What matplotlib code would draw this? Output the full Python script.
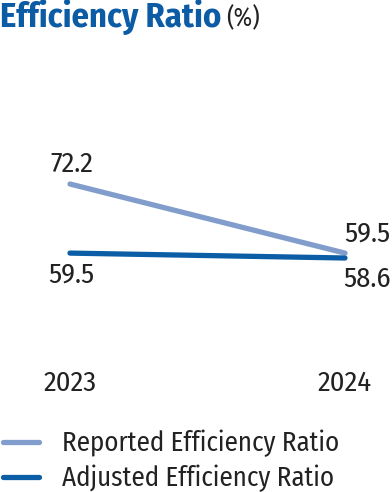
import matplotlib
matplotlib.use("Agg")
import matplotlib.pyplot as plt

years = ["2023", "2024"]
reported = [72.2, 59.5]
adjusted = [59.5, 58.6]
series_names = ["Reported Efficiency Ratio", "Adjusted Efficiency Ratio"]
light = "#819dcb"
dark = "#0b5ea6"
title_col = "#0b5ba5"
txt = "#222222"

plt.rcParams["font.family"] = ["Fira Sans Condensed", "Asap Condensed", "DejaVu Sans"]

W, H = 392, 492
fig = plt.figure(figsize=(W/100, H/100), dpi=100)
# axes spanning pixel x 70..345, y 140..300 (from top)
ax = fig.add_axes([70/W, 1-300/H, 275/W, 160/H])
ax.set_xlim(0, 1)
ax.set_ylim(50.88, 80.29)
ax.axis("off")
x = [0, 1]
l1, = ax.plot(x, reported, color=light, lw=3.8, solid_capstyle="round", clip_on=False)
l2, = ax.plot(x, adjusted, color=dark, lw=3.8, solid_capstyle="round", clip_on=False)

fs = 20.5
ax.annotate(f"{reported[0]}", (x[0], reported[0]), xytext=(1, 14.4), textcoords="offset points",
            ha="center", va="center", fontsize=fs, color=txt)
ax.annotate(f"{adjusted[0]}", (x[0], adjusted[0]), xytext=(1, -15.8), textcoords="offset points",
            ha="center", va="center", fontsize=fs, color=txt)
ax.annotate(f"{reported[1]}", (x[1], reported[1]), xytext=(15.8, 13.7), textcoords="offset points",
            ha="center", va="center", fontsize=fs, color=txt)
ax.annotate(f"{adjusted[1]}", (x[1], adjusted[1]), xytext=(15.8, -15.5), textcoords="offset points",
            ha="center", va="center", fontsize=fs, color=txt)

for xi, yr in zip(x, years):
    ax.text(xi, -0.522, yr, transform=ax.get_xaxis_transform(), ha="center", va="center",
            fontsize=fs, color=txt)

fig.text(0, 1-17/H, "Efficiency Ratio", fontsize=24.8, fontweight="bold", color=title_col,
         ha="left", va="center")
fig.text(226/W, 1-19/H, "(%)", fontsize=18, color=txt, ha="left", va="center")

lfs = 19.4
leg = fig.legend([l1, l2], series_names, loc="upper left", bbox_to_anchor=(2.5/W, 1-429.5/H),
                 frameon=False, fontsize=lfs, handlelength=1.37, handletextpad=0.83,
                 labelspacing=0.3, borderpad=0, borderaxespad=0)
for t in leg.get_texts():
    t.set_color(txt)

fig.savefig("out.png", dpi=100)
